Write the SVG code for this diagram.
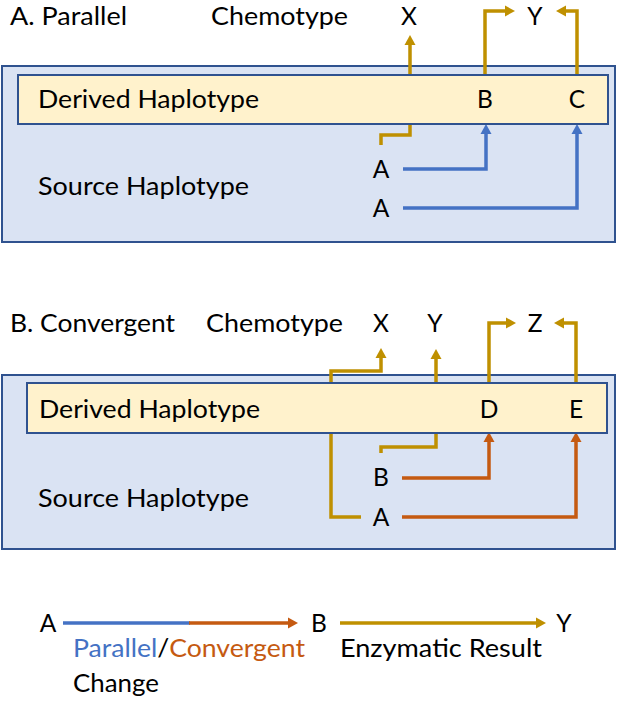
<svg xmlns="http://www.w3.org/2000/svg" width="617" height="701" viewBox="0 0 617 701">
<style>
text{font-family:Lato,"Liberation Sans",sans-serif;font-size:24.5px;fill:#000}
.c{text-anchor:middle}
.outer{fill:#DAE3F3;stroke:#2F528F;stroke-width:2}
.derived{fill:#FFF2CC;stroke:#2F528F;stroke-width:2}
.g{fill:none;stroke:#BF9000;stroke-width:3.5}
.b{fill:none;stroke:#4472C4;stroke-width:3.5}
.o{fill:none;stroke:#C55A11;stroke-width:3.5}
</style>
<defs>
<marker id="ag" markerUnits="userSpaceOnUse" markerWidth="12" markerHeight="12" viewBox="0 -6 12 12" refX="1" refY="0" orient="auto"><path d="M0,-5.5L10,0L0,5.5z" fill="#BF9000"/></marker>
<marker id="ab" markerUnits="userSpaceOnUse" markerWidth="12" markerHeight="12" viewBox="0 -6 12 12" refX="1" refY="0" orient="auto"><path d="M0,-5.5L10,0L0,5.5z" fill="#4472C4"/></marker>
<marker id="ao" markerUnits="userSpaceOnUse" markerWidth="12" markerHeight="12" viewBox="0 -6 12 12" refX="1" refY="0" orient="auto"><path d="M0,-5.5L10,0L0,5.5z" fill="#C55A11"/></marker>
</defs>

<g id="panelA-source">
<rect class="outer" x="2" y="66" width="613" height="176"/>
</g>
<g id="panelB-source">
<rect class="outer" x="2" y="375" width="613" height="174"/>
</g>

<g id="connectors">
<path class="g" d="M381,145V135H410V44" marker-end="url(#ag)"/>
<path class="g" d="M485,75V11H506" marker-end="url(#ag)"/>
<path class="g" d="M577,75V11H565" marker-end="url(#ag)"/>
<path class="b" d="M403,169H486V133" marker-end="url(#ab)"/>
<path class="b" d="M403,208H577V133" marker-end="url(#ab)"/>

<path class="g" d="M361,517H331V371H381V357" marker-end="url(#ag)"/>
<path class="g" d="M381,453V447H436V358" marker-end="url(#ag)"/>
<path class="g" d="M489,383V323H507" marker-end="url(#ag)"/>
<path class="g" d="M576,383V323H563" marker-end="url(#ag)"/>
<path class="o" d="M402,478H489V441" marker-end="url(#ao)"/>
<path class="o" d="M402,517H576V441" marker-end="url(#ao)"/>

<path class="b" d="M63,623H190"/>
<path class="o" d="M189,623H289" marker-end="url(#ao)"/>
<path class="g" d="M340,623H537" marker-end="url(#ag)"/>
</g>

<g id="panelA-derived">
<rect class="derived" x="18" y="75" width="590" height="49"/>
<text x="38" y="108" textLength="221" lengthAdjust="spacingAndGlyphs">Derived Haplotype</text>
<text class="c" x="485" y="108">B</text>
<text class="c" x="577" y="108">C</text>
</g>
<g id="panelA-labels">
<text x="10" y="24.5" textLength="117" lengthAdjust="spacingAndGlyphs">A. Parallel</text>
<text x="211" y="24.5" textLength="137" lengthAdjust="spacingAndGlyphs">Chemotype</text>
<text class="c" x="409" y="24.5">X</text>
<text class="c" x="535" y="24.5">Y</text>
<text x="38" y="195" textLength="211" lengthAdjust="spacingAndGlyphs">Source Haplotype</text>
<text class="c" x="381" y="178">A</text>
<text class="c" x="381" y="217">A</text>
</g>

<g id="panelB-derived">
<rect class="derived" x="27" y="383" width="580" height="50"/>
<text x="39" y="418" textLength="221" lengthAdjust="spacingAndGlyphs">Derived Haplotype</text>
<text class="c" x="489" y="418">D</text>
<text class="c" x="576" y="418">E</text>
</g>
<g id="panelB-labels">
<text x="10" y="332" textLength="165" lengthAdjust="spacingAndGlyphs">B. Convergent</text>
<text x="206" y="332" textLength="137" lengthAdjust="spacingAndGlyphs">Chemotype</text>
<text class="c" x="381" y="332">X</text>
<text class="c" x="435" y="332">Y</text>
<text class="c" x="535" y="332">Z</text>
<text x="38" y="507" textLength="211" lengthAdjust="spacingAndGlyphs">Source Haplotype</text>
<text class="c" x="381" y="486">B</text>
<text class="c" x="381" y="526">A</text>
</g>

<g id="legend">
<text class="c" x="48" y="632">A</text>
<text class="c" x="319" y="632">B</text>
<text class="c" x="564" y="632">Y</text>
<text x="73" y="657" textLength="232" lengthAdjust="spacingAndGlyphs"><tspan fill="#4472C4">Parallel</tspan>/<tspan fill="#C55A11">Convergent</tspan></text>
<text x="73" y="692" textLength="86" lengthAdjust="spacingAndGlyphs">Change</text>
<text x="340" y="657" textLength="202" lengthAdjust="spacingAndGlyphs">Enzymatic Result</text>
</g>
</svg>
